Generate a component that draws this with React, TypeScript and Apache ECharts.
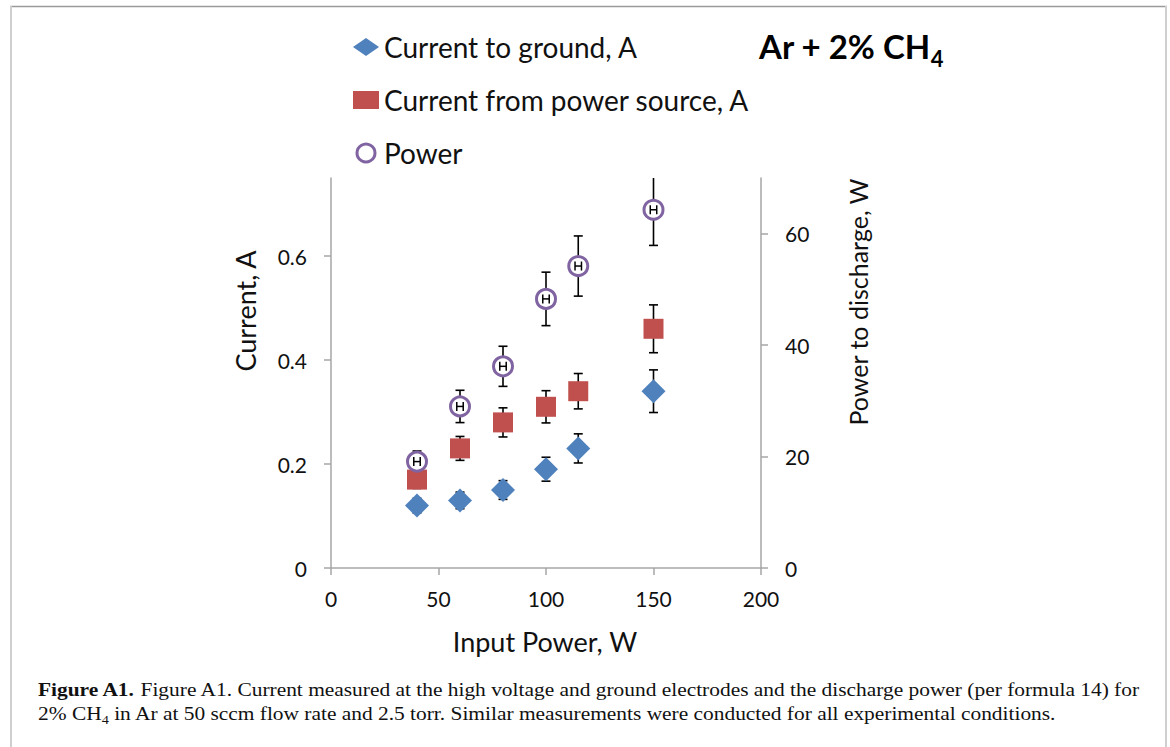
import React, { useEffect, useRef } from "react";
import * as echarts from "echarts";

const inputPower = [40, 60, 80, 100, 115, 150];
const groundCurrent = [0.12, 0.13, 0.15, 0.19, 0.23, 0.34];
const groundErr = [0.014, 0.016, 0.018, 0.023, 0.028, 0.041];
const sourceCurrent = [0.17, 0.23, 0.28, 0.31, 0.34, 0.46];
const sourceErr = [0.017, 0.023, 0.028, 0.031, 0.034, 0.046];
const dischargePower = [19.1, 29.0, 36.2, 48.3, 54.2, 64.3];
const dischargePowerErr = [1.9, 2.9, 3.6, 4.8, 5.4, 6.4];
const dischargePowerXErr = [1.5, 1.5, 1.5, 1.5, 1.5, 1.5];
const currentTicks = [0, 0.2, 0.4, 0.6];
const powerTicks = [0, 20, 40, 60];
const xTicks = [0, 50, 100, 150, 200];

const FONT = "Lato, 'Open Sans', sans-serif";
const SERIF = "'Liberation Serif', 'DejaVu Serif', serif";

export default function App() {
  const ref = useRef<HTMLDivElement>(null);
  useEffect(() => {
    if (!ref.current) return;
    const chart = echarts.init(ref.current, undefined, { renderer: "svg" });
    const errStyle = { stroke: "#000", lineWidth: 1.6 };
    const cap = 4.5;
    const errRender = (params: any, api: any) => {
      const x = api.value(0);
      const y = api.value(1);
      const e = api.value(2);
      const t = api.coord([x, y + e]);
      const b = api.coord([x, y - e]);
      return {
        type: "group",
        children: [
          { type: "line", shape: { x1: t[0], y1: t[1], x2: b[0], y2: b[1] }, style: errStyle },
          { type: "line", shape: { x1: t[0] - cap, y1: t[1], x2: t[0] + cap, y2: t[1] }, style: errStyle },
          { type: "line", shape: { x1: b[0] - cap, y1: b[1], x2: b[0] + cap, y2: b[1] }, style: errStyle },
        ],
      };
    };
    const xErrRender = (params: any, api: any) => {
      const x = api.value(0);
      const y = api.value(1);
      const e = api.value(2);
      const l = api.coord([x - e, y]);
      const r = api.coord([x + e, y]);
      const s = { stroke: "#000", lineWidth: 1.5 };
      const h = 4.5;
      return {
        type: "group",
        children: [
          { type: "line", shape: { x1: l[0], y1: l[1], x2: r[0], y2: r[1] }, style: s },
          { type: "line", shape: { x1: l[0], y1: l[1] - h, x2: l[0], y2: l[1] + h }, style: s },
          { type: "line", shape: { x1: r[0], y1: r[1] - h, x2: r[0], y2: r[1] + h }, style: s },
        ],
      };
    };
    const zip3 = (a: number[], b: number[], c: number[]) => a.map((v, i) => [v, b[i], c[i]]);
    const zip2 = (a: number[], b: number[]) => a.map((v, i) => [v, b[i]]);
    const axisLineStyle = { color: "#a6a6a6", width: 1.5 };
    const labelStyle = { fontFamily: FONT, fontSize: 21, color: "#111" };

    chart.setOption({
      animation: false,
      backgroundColor: "#fff",
      grid: { left: 331, top: 178, right: 409, bottom: 179, containLabel: false },
      legend: {
        orient: "vertical",
        left: 348,
        top: 28,
        itemWidth: 26,
        itemHeight: 18,
        itemGap: 25,
        symbolKeepAspect: true,
        textStyle: { fontFamily: FONT, fontSize: 28, color: "#111", lineHeight: 28 },
        data: [
          { name: "Current to ground, A", icon: "diamond", itemStyle: { color: "#4f81bd" } },
          { name: "Current from power source, A", icon: "rect", itemStyle: { color: "#c0504d" } },
          {
            name: "Power",
            icon: "circle",
            itemStyle: { color: "#fff", borderColor: "#8064a2", borderWidth: 3 },
          },
        ],
      },
      xAxis: {
        type: "value",
        min: 0,
        max: 200,
        interval: 50,
        splitLine: { show: false },
        axisLine: { show: true, onZero: false, lineStyle: axisLineStyle },
        axisTick: { show: true, length: 7, lineStyle: axisLineStyle, customValues: xTicks },
        axisLabel: { ...labelStyle, margin: 20, customValues: xTicks },
      },
      yAxis: [
        {
          type: "value",
          min: 0,
          max: 0.75,
          interval: 0.2,
          position: "left",
          splitLine: { show: false },
          axisLine: { show: true, onZero: false, lineStyle: axisLineStyle },
          axisTick: { show: true, length: 7, lineStyle: axisLineStyle, customValues: currentTicks },
          axisLabel: { ...labelStyle, margin: 24, customValues: currentTicks },
        },
        {
          type: "value",
          min: 0,
          max: 70,
          interval: 20,
          position: "right",
          splitLine: { show: false },
          axisLine: { show: true, onZero: false, lineStyle: axisLineStyle },
          axisTick: { show: true, length: 7, lineStyle: axisLineStyle, customValues: powerTicks },
          axisLabel: { ...labelStyle, margin: 24, customValues: powerTicks },
        },
      ],
      series: [
        {
          type: "custom",
          name: "groundErr",
          yAxisIndex: 0,
          clip: true,
          z: 1,
          renderItem: errRender,
          encode: { x: 0, y: 1 },
          data: zip3(inputPower, groundCurrent, groundErr),
        },
        {
          type: "custom",
          name: "sourceErr",
          yAxisIndex: 0,
          clip: true,
          z: 1,
          renderItem: errRender,
          encode: { x: 0, y: 1 },
          data: zip3(inputPower, sourceCurrent, sourceErr),
        },
        {
          type: "custom",
          name: "powerErr",
          yAxisIndex: 1,
          clip: true,
          z: 1,
          renderItem: errRender,
          encode: { x: 0, y: 1 },
          data: zip3(inputPower, dischargePower, dischargePowerErr),
        },
        {
          type: "scatter",
          name: "Current to ground, A",
          yAxisIndex: 0,
          symbol: "diamond",
          symbolSize: 24,
          z: 3,
          itemStyle: { color: "#4f81bd", opacity: 1 },
          data: zip2(inputPower, groundCurrent),
        },
        {
          type: "scatter",
          name: "Current from power source, A",
          yAxisIndex: 0,
          symbol: "rect",
          symbolSize: 20,
          z: 3,
          itemStyle: { color: "#c0504d", opacity: 1 },
          data: zip2(inputPower, sourceCurrent),
        },
        {
          type: "scatter",
          name: "Power",
          yAxisIndex: 1,
          symbol: "circle",
          symbolSize: 19,
          z: 3,
          itemStyle: { color: "#fff", borderColor: "#8064a2", borderWidth: 3, opacity: 1 },
          data: zip2(inputPower, dischargePower),
        },
        {
          type: "custom",
          name: "powerXErr",
          yAxisIndex: 1,
          clip: true,
          z: 4,
          renderItem: xErrRender,
          encode: { x: 0, y: 1 },
          data: zip3(inputPower, dischargePower, dischargePowerXErr),
        },
      ],
      graphic: [
        { type: "line", shape: { x1: 10, y1: 6.5, x2: 1167, y2: 6.5 }, style: { stroke: "#9a9a9a", lineWidth: 1.5 } },
        { type: "line", shape: { x1: 11, y1: 6, x2: 11, y2: 747 }, style: { stroke: "#cfcfcf", lineWidth: 2 } },
        { type: "line", shape: { x1: 1166, y1: 6, x2: 1166, y2: 747 }, style: { stroke: "#cfcfcf", lineWidth: 2 } },
        {
          type: "text",
          left: 759,
          top: 29,
          style: {
            text: "{m|Ar + 2% CH}{s|4}",
            rich: {
              m: { fontFamily: FONT, fontSize: 33, fontWeight: "bold", fill: "#000", lineHeight: 40, verticalAlign: "top" },
              s: { fontFamily: FONT, fontSize: 22, fontWeight: "bold", fill: "#000", lineHeight: 22, verticalAlign: "bottom" },
            },
          },
        },
        {
          type: "text",
          x: 245,
          y: 311,
          rotation: Math.PI / 2,
          style: { text: "Current, A", fontFamily: FONT, fontSize: 27, fill: "#111", align: "center", verticalAlign: "middle" },
        },
        {
          type: "text",
          x: 858,
          y: 302,
          rotation: Math.PI / 2,
          style: { text: "Power to discharge, W", fontFamily: FONT, fontSize: 25, fill: "#111", align: "center", verticalAlign: "middle" },
        },
        {
          type: "text",
          x: 545,
          y: 641,
          style: { text: "Input Power, W", fontFamily: FONT, fontSize: 27, fill: "#111", align: "center", verticalAlign: "middle" },
        },
        {
          type: "text",
          x: 38,
          y: 678,
          scaleX: 1.19,
          style: {
            text:
              "{b|Figure A1.}{n| Figure A1. Current measured at the high voltage and ground electrodes and the discharge power (per formula 14) for}\n" +
              "{n|2% CH}{s|4}{n| in Ar at 50 sccm flow rate and 2.5 torr. Similar measurements were conducted for all experimental conditions.}",
            rich: {
              b: { fontFamily: SERIF, fontSize: 18, fontWeight: "bold", fill: "#111", lineHeight: 24 },
              n: { fontFamily: SERIF, fontSize: 18, fill: "#111", lineHeight: 24 },
              s: { fontFamily: SERIF, fontSize: 12, fill: "#111", lineHeight: 14, verticalAlign: "bottom" },
            },
          },
        },
      ],
    });
    return () => chart.dispose();
  }, []);
  return (
    <div
      ref={ref}
      style={{ position: "fixed", left: 0, top: 0, width: 1170, height: 747, background: "#fff" }}
    />
  );
}
